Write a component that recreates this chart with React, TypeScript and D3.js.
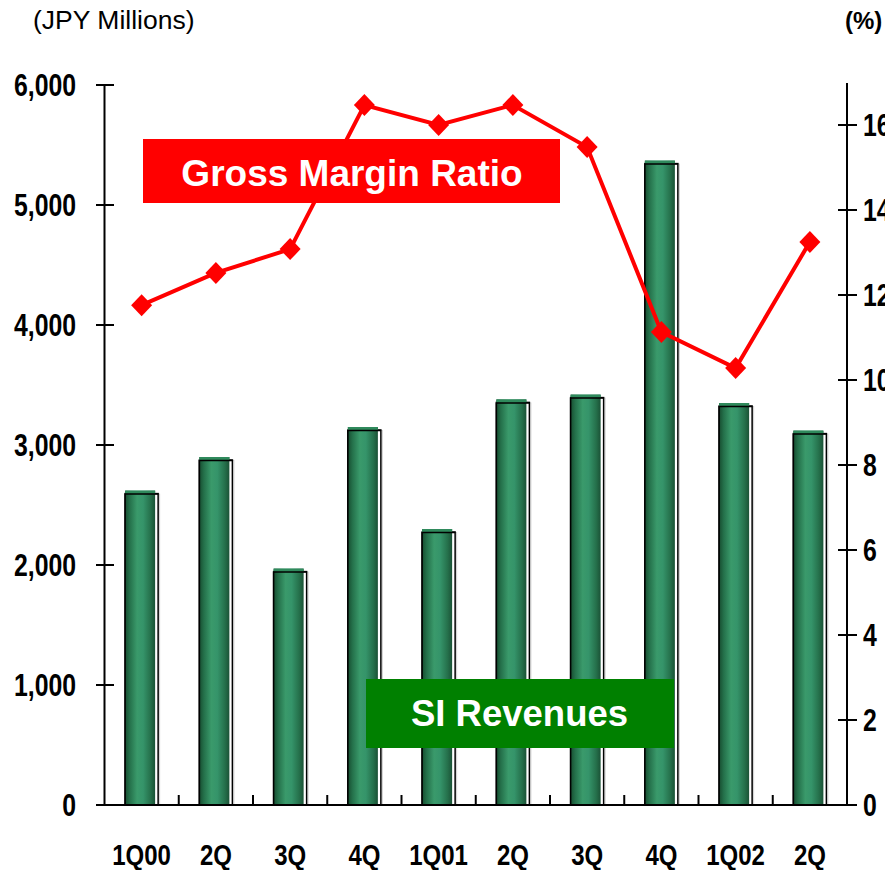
import React from 'react';
import * as d3 from 'd3';

const quarters = ['1Q00', '2Q', '3Q', '4Q', '1Q01', '2Q', '3Q', '4Q', '1Q02', '2Q'];
const siRevenues = [2620, 2900, 1970, 3150, 2300, 3380, 3420, 5370, 3350, 3120];
const grossMarginRatio = [11.76, 12.52, 13.08, 16.47, 16.0, 16.47, 15.48, 11.13, 10.28, 13.25];
const leftTicks = [0, 1000, 2000, 3000, 4000, 5000, 6000];
const rightTicks = [0, 2, 4, 6, 8, 10, 12, 14, 16];

const W = 885;
const H = 870;
const plot = { left: 104.5, right: 847, top: 85, bottom: 805 };
const arial = "'Liberation Sans', Arial, sans-serif";
const squeeze = 0.8; // no narrow face installed, so squeeze the bold sans

// condensed bold label, anchored like an svg text
function Narrow({ x, y, anchor, size, children }:
  { x: number; y: number; anchor: 'start' | 'middle' | 'end'; size: number; children: React.ReactNode }) {
  return (
    <text transform={`translate(${x},${y}) scale(${squeeze},1)`} textAnchor={anchor}
      fontFamily={arial} fontWeight="bold" fontSize={size} fill="#000">{children}</text>
  );
}

export default function App() {
  const x = d3.scaleBand<number>()
    .domain(d3.range(quarters.length))
    .range([plot.left, plot.right])
    .padding(0);
  const yLeft = d3.scaleLinear().domain([0, 6000]).range([plot.bottom, plot.top]);
  const yRight = d3.scaleLinear().domain([0, 17]).range([plot.bottom, plot.top - 2.5]);
  const mid = (i: number) => x(i)! + x.bandwidth() / 2;

  const line = d3.line<number>()
    .x((_, i) => mid(i))
    .y(d => yRight(d));

  const barW = 30;
  const diamond = (cx: number, cy: number) =>
    `M${cx},${cy - 11}L${cx + 10.5},${cy}L${cx},${cy + 11}L${cx - 10.5},${cy}Z`;

  return (
    <svg width={W} height={H} style={{ position: 'absolute', left: 0, top: 0, background: '#fff' }}>
      <defs>
        <linearGradient id="barGrad" x1="0" x2="1" y1="0" y2="0">
          <stop offset="0" stopColor="#174d30" />
          <stop offset="0.15" stopColor="#24704a" />
          <stop offset="0.4" stopColor="#3a9a6b" />
          <stop offset="0.6" stopColor="#35946a" />
          <stop offset="0.85" stopColor="#25704b" />
          <stop offset="1" stopColor="#1b5236" />
        </linearGradient>
      </defs>

      {/* bars */}
      {siRevenues.map((v, i) => {
        const x0 = mid(i) - 16.5;
        const top = yLeft(v);
        return (
          <g key={i}>
            <rect x={x0 + 1.5} y={top + 3.5} width={33} height={plot.bottom - top - 3.5}
              fill="none" stroke="#d0d0d0" strokeWidth={1} />
            <rect x={x0} y={top + 3} width={33} height={plot.bottom - top - 3}
              fill="#fff" stroke="#000" strokeWidth={1.5} />
            <rect x={x0} y={top} width={barW} height={plot.bottom - top} fill="url(#barGrad)" />
            <rect x={x0} y={top} width={barW} height={3} fill="#2f8a5c" />
            <line x1={x0} x2={x0 + 33} y1={top + 3.5} y2={top + 3.5} stroke="#000" strokeWidth={1.5} />
            <line x1={x0} x2={x0} y1={top + 3} y2={plot.bottom} stroke="#000" strokeWidth={1.5} />
          </g>
        );
      })}

      {/* x axis */}
      <line x1={97} x2={plot.right} y1={plot.bottom} y2={plot.bottom} stroke="#000" strokeWidth={2} />
      {d3.range(1, quarters.length).map(i => (
        <line key={i} x1={x(i)!} x2={x(i)!} y1={plot.bottom} y2={plot.bottom - 10} stroke="#000" strokeWidth={2} />
      ))}
      {quarters.map((q, i) => (
        <Narrow key={i} x={mid(i)} y={865} anchor="middle" size={30}>{q}</Narrow>
      ))}

      {/* left axis */}
      <line x1={plot.left} x2={plot.left} y1={plot.top} y2={plot.bottom} stroke="#000" strokeWidth={2} />
      {leftTicks.map(t => (
        <g key={t}>
          <line x1={96} x2={114} y1={yLeft(t)} y2={yLeft(t)} stroke="#000" strokeWidth={2} />
          <Narrow x={76} y={yLeft(t) + 11} anchor="end" size={31}>{d3.format(',')(t)}</Narrow>
        </g>
      ))}
      <text x={33} y={29} fontFamily={arial} fontSize={26.5} fill="#000">(JPY Millions)</text>

      {/* right axis */}
      <line x1={plot.right} x2={plot.right} y1={plot.top - 2} y2={plot.bottom} stroke="#000" strokeWidth={2} />
      {rightTicks.map(t => (
        <g key={t}>
          <line x1={838} x2={857} y1={yRight(t)} y2={yRight(t)} stroke="#000" strokeWidth={2} />
          <Narrow x={863} y={yRight(t) + 11} anchor="start" size={31}>{t}</Narrow>
        </g>
      ))}
      <text x={845} y={29} fontFamily={arial} fontWeight="bold" fontSize={24} fill="#000">(%)</text>

      {/* gross margin line */}
      <path d={line(grossMarginRatio) ?? ''} fill="none" stroke="#ff0000" strokeWidth={4} />
      {grossMarginRatio.map((v, i) => (
        <path key={i} d={diamond(mid(i), yRight(v))} fill="#ff0000" />
      ))}

      {/* labels */}
      <rect x={143} y={139} width={417} height={64} fill="#ff0000" />
      <text x={352} y={186} textAnchor="middle" fontFamily={arial} fontWeight="bold"
        fontSize={37} fill="#fff">Gross Margin Ratio</text>
      <rect x={366} y={679} width={308} height={69} fill="#008000" />
      <text x={519.5} y={726} textAnchor="middle" fontFamily={arial} fontWeight="bold"
        fontSize={36.5} fill="#fff">SI Revenues</text>
    </svg>
  );
}
